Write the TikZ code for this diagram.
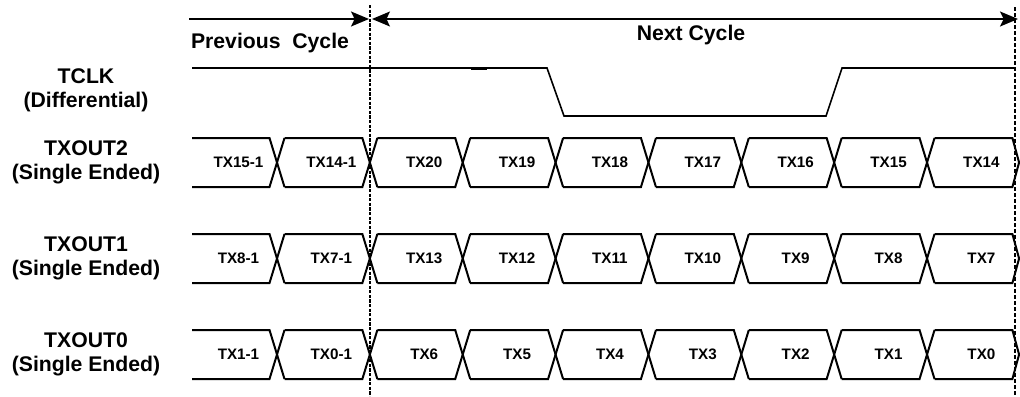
\documentclass[tikz,border=0pt]{standalone}
\usepackage{fontspec}
\setmainfont{Liberation Sans}
\usetikzlibrary{arrows.meta}

\tikzset{
  etiqueta/.style={font=\fontsize{10.6}{12}\selectfont\bfseries, align=center},
  dato/.style={font=\fontsize{7.6}{9}\selectfont\bfseries},
  senal/.style={line width=0.8pt, line join=miter},
  bus/.style={line width=1pt, line join=miter},
  punta/.tip={Stealth[length=9pt, width=7.5pt, inset=1.8pt]},
}

\begin{document}
\begin{tikzpicture}[x=0.5pt, y=-0.5pt]
  \useasboundingbox (0,0) rectangle (1020,396);

  % Limites de ciclo
  \draw[line width=1.2pt, dash pattern=on 1.6pt off 0.7pt] (370,5) -- (370,396);
  \draw[line width=0.55pt, dash pattern=on 2pt off 1pt] (1015,7) -- (1015,396);

  % Flechas de ciclo
  \coordinate (ciclo-ini) at (189,19);
  \coordinate (ciclo-corte) at (369,19);
  \coordinate (ciclo-sig) at (372,19);
  \coordinate (ciclo-fin) at (1018,19);
  \draw[line width=0.8pt, -punta] (ciclo-ini) -- (ciclo-corte);
  \draw[line width=0.8pt, punta-punta] (ciclo-sig) -- (ciclo-fin);
  \node[etiqueta, anchor=base] (previo) at (270,48) {Previous\ \ Cycle};
  \node[etiqueta, anchor=base] (siguiente) at (691,40.5) {Next Cycle};

  % Reloj TCLK
  \node[etiqueta] (tclk) at (86,90) {TCLK\\(Differential)};
  \draw[senal] (192,68) -- (547,68) -- (564,116) -- (826,116) -- (842,68) -- (1015,68);
  \draw[line width=1.5pt] (471,68) -- (487,68);
  \draw[line width=1.1pt] (842,68) -- (920,68);

  % Buses de datos TXOUT2..TXOUT0
  \foreach \yc/\nombre/\datos in {
      162.5/TXOUT2/{TX15-1,TX14-1,TX20,TX19,TX18,TX17,TX16,TX15,TX14},
      258.5/TXOUT1/{TX8-1,TX7-1,TX13,TX12,TX11,TX10,TX9,TX8,TX7},
      354.5/TXOUT0/{TX1-1,TX0-1,TX6,TX5,TX4,TX3,TX2,TX1,TX0}} {
    \node[etiqueta] (\nombre) at (86,\yc) {\nombre\\(Single Ended)};
    \foreach \t [count=\k from 0] in \datos {
      \pgfmathsetmacro{\c}{277+92.86*\k}
      \pgfmathsetmacro{\a}{\k==0 ? 192 : \c-85.36}
      \node[dato] (\nombre-\k) at (\c-38.5,\yc) {\t};
      \ifnum\k<8
        \draw[bus] (\a,\yc-24.5) -- (\c-7.5,\yc-24.5) -- (\c+7.5,\yc+24.5);
        \draw[bus] (\a,\yc+24.5) -- (\c-7.5,\yc+24.5) -- (\c+7.5,\yc-24.5);
      \else
        \draw[bus] (\a,\yc-24.5) -- (\c-7.5,\yc-24.5) -- (\c-0.8,\yc) -- (\c-7.5,\yc+24.5) -- (\a,\yc+24.5);
      \fi
    }
  }
\end{tikzpicture}
\end{document}
